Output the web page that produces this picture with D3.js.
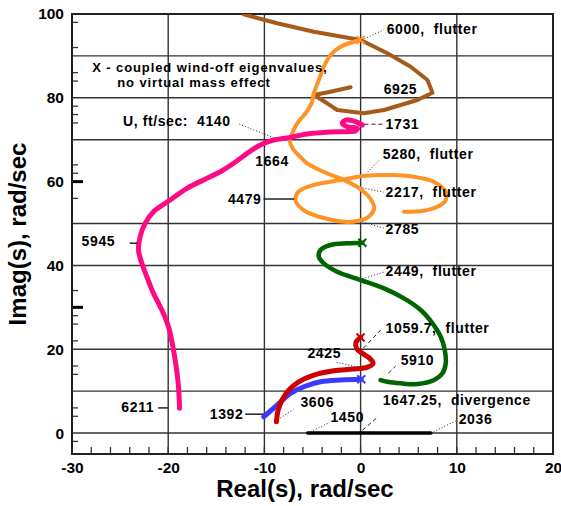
<!DOCTYPE html>
<html>
<head>
<meta charset="utf-8">
<script src="https://cdn.jsdelivr.net/npm/d3@7"></script>
<style>
  body { margin: 0; background: #fff; }
  text { font-family: "Liberation Sans", Arial, sans-serif; white-space: pre; }
</style>
</head>
<body>
<div class="chart"></div>
<script>
// root locus branches, [Real(s), Imag(s)] in rad/sec
const brownBranch = [[-12.16,99.93],[-8.68,97.78],[-4.86,95.78],[0,93.79],[2.78,90.62],[5.21,87.42],[6.95,84.25],[7.47,81.22],[5.91,79.47],[2.43,77.09],[0.34,76.3],[-2.43,77.09],[-3.47,78.69],[-4.86,80.67],[-3.13,81.46],[-1.04,82.51]];
const orangeBranch = [[0,93.79],[-2.08,92.2],[-3.13,90.21],[-3.82,87.42],[-4.34,84.25],[-4.86,81.07],[-5.1,78.69],[-5.73,76.3],[-6.59,73.91],[-7.11,71.53],[-7.36,69.76],[-6.95,67.54],[-6.25,65.87],[-5.55,64.37],[-3.82,62.29],[-1.74,60.38],[0,58.23],[1.04,55.85],[1.41,53.63],[0.83,51.62],[-0.31,50.6],[-1.77,50.43],[-3.85,51.31],[-5.94,53.22],[-6.77,55.61],[-6.46,57.59],[-4.9,59.19],[-2.08,60.38],[0.31,61.34],[3.13,61.58],[5.52,61.17],[7.6,59.98],[8.85,57.59],[8.85,55.61],[7.99,54.01],[6.56,53.06],[4.51,52.82]];
const pinkBranch = [[0.18,73.51],[-0.52,74.3],[-1.56,74.7],[-1.91,73.91],[-1.39,73.1],[-0.34,72.72],[-0.52,72.15],[-3.13,71.84],[-5.55,71.36],[-7.64,70.41],[-9.03,69.93],[-10.42,68.74],[-11.8,66.75],[-13.2,64.37],[-14.58,62.36],[-15.97,60.79],[-18.05,58.4],[-19.79,55.61],[-21.53,52.82],[-22.4,50.05],[-22.92,46.85],[-23.09,43.68],[-22.74,40.5],[-22.22,37.3],[-21.53,33.34],[-20.66,29.36],[-19.97,25.37],[-19.51,20.6],[-19.17,15.82],[-18.93,11.05],[-18.82,5.89]];
const greenBranch = [[0.18,45.42],[-1.39,45.27],[-3.13,44.87],[-4.17,43.68],[-4.34,42.08],[-3.82,40.5],[-2.43,38.5],[0,36.52],[2.43,34.53],[4.51,32.15],[6.25,29.36],[7.47,26.18],[8.33,22.98],[8.75,19.81],[8.85,16.63],[8.51,14.25],[7.64,12.65],[5.91,11.69],[4.17,11.86],[2.78,12.24],[2.08,12.65]];
const redBranch = [[0,22.79],[-0.47,21.72],[-0.42,20.21],[0.18,19.02],[0.94,17.83],[1.3,16.63],[0.73,15.75],[-0.83,15.27],[-2.78,14.87],[-4.86,13.84],[-6.43,12.24],[-7.47,10.26],[-8.16,7.88],[-8.57,5.49],[-8.75,2.7]];
const blueBranch = [[0.07,12.82],[-2.08,12.65],[-4.17,12.24],[-5.91,11.05],[-7.29,9.45],[-8.68,6.68],[-10.07,3.89]];
const blackBranch = [[-5.5,0],[7.3,0]];

// wind-off eigenvalues (X marks)
const windOff = [[0,93.8,'#ff9326'],[0.18,45.42,'#006400'],[0,22.8,'#cc0000'],[0.07,12.82,'#3a3aff']];

const xTicks = [-30, -20, -10, 0, 10, 20];
const yTicks = [0, 20, 40, 60, 80, 100];
const xGrid = [-20, -10, 0, 10];
const yGrid = [0, 10, 20, 40, 50, 70, 80, 90];
const yMinor = [98, 92, 86, 84, 78, 76, 74, 64, 62, 56, 34, 28, 26, 22, 16, 14, 6, 4, -2];
const yMajorMark = [60, 30];
const xMinor = d3.range(-28, 20, 2);

// speed labels: text, x, y, anchor, leader [x1,y1,x2,y2], leader style
const labels = [
  ['6000,  flutter', 2.71, 96.4, 'start', [0.1,93.8,2.4,96.2], 'dot'],
  ['6925', 2.4, 82.1, 'start', null, null],
  ['1731', 2.6, 73.7, 'start', [0.4,73.7,2.3,73.7], 'dash'],
  ['U, ft/sec:  4140', -24.7, 74.5, 'start', [-12.6,73.7,-9.06,70.5], 'dot'],
  ['1664', -10.94, 64.9, 'start', null, null],
  ['5280,  flutter', 2.29, 66.6, 'start', [0.73,62.3,1.98,65.2], 'dot'],
  ['2217,  flutter', 2.6, 57.5, 'start', [0.2,58.5,2.4,57.5], 'dot'],
  ['4479', -10.3, 55.85, 'end', [-10.1,55.85,-6.9,55.85], 'solid'],
  ['2785', 2.6, 48.7, 'start', [0.2,50.4,2.4,48.9], 'dot'],
  ['5945', -29.0, 45.8, 'start', [-24.0,45.3,-23.2,45.3], 'solid'],
  ['2449,  flutter', 2.6, 38.7, 'start', [0.2,36.8,2.4,38.4], 'dot'],
  ['1059.7,  flutter', 2.6, 25.1, 'start', [0.3,20.3,2.1,24.6], 'dash'],
  ['2425', -5.52, 19.1, 'start', [-2.5,16.9,-0.3,15.75], 'dot'],
  ['5910', 4.17, 17.4, 'start', [2.9,14.3,3.65,16.0], 'dash'],
  ['3606', -6.25, 7.4, 'start', [-8.33,3.6,-6.98,5.7], 'dot'],
  ['1392', -12.19, 4.5, 'end', [-12.0,4.5,-10.1,4.5], 'solid'],
  ['6211', -21.46, 6.2, 'end', [-21.04,6.0,-20.0,6.0], 'solid'],
  ['1450', -3.13, 3.8, 'start', [-5.5,0,-3.33,2.4], 'dot'],
  ['1647.25,  divergence', 2.29, 7.9, 'start', [0.2,0.7,1.77,3.8], 'dash'],
  ['2036', 10.2, 3.3, 'start', [7.3,0,9.9,2.9], 'dot']
];
const noteLines = [['X - coupled wind-off eigenvalues,', -27.9, 87.2], ['no virtual mass effect', -25.3, 83.7]];

const width = 561, height = 506;
const m = { left: 72, right: 8, top: 14, bottom: 52 };

const svg = d3.select('.chart')
  .append('svg')
  .attr('width', width)
  .attr('height', height);

const x = d3.scaleLinear().domain([-30, 20]).range([m.left, width - m.right]);
const y = d3.scaleLinear().domain([-5, 100]).range([height - m.bottom, m.top]);

svg.append('clipPath').attr('id', 'plot')
  .append('rect')
  .attr('x', x(-30)).attr('y', y(100))
  .attr('width', x(20) - x(-30)).attr('height', y(-5) - y(100));

// grid
svg.append('g').attr('class', 'grid')
  .selectAll('line.v').data(xGrid).enter().append('line')
  .attr('x1', d => x(d)).attr('x2', d => x(d))
  .attr('y1', y(-5)).attr('y2', y(100))
  .attr('stroke', '#333').attr('stroke-width', 1.4);
svg.select('.grid')
  .selectAll('line.h').data(yGrid).enter().append('line')
  .attr('x1', x(-30)).attr('x2', x(20))
  .attr('y1', d => y(d)).attr('y2', d => y(d))
  .attr('stroke', '#333').attr('stroke-width', 1.4);

// minor ticks
svg.append('g')
  .selectAll('line').data(yMinor).enter().append('line')
  .attr('x1', x(-30)).attr('x2', x(-30) + 6)
  .attr('y1', d => y(d)).attr('y2', d => y(d))
  .attr('stroke', '#333').attr('stroke-width', 1.3);
svg.append('g')
  .selectAll('line').data(yMajorMark).enter().append('line')
  .attr('x1', x(-30)).attr('x2', x(-30) + 11)
  .attr('y1', d => y(d)).attr('y2', d => y(d))
  .attr('stroke', '#000').attr('stroke-width', 3);
svg.append('g')
  .selectAll('line').data(xMinor).enter().append('line')
  .attr('x1', d => x(d)).attr('x2', d => x(d))
  .attr('y1', y(-5)).attr('y2', y(-5) - 7)
  .attr('stroke', '#333').attr('stroke-width', 1.3);

// frame
svg.append('rect')
  .attr('x', x(-30)).attr('y', y(100))
  .attr('width', x(20) - x(-30)).attr('height', y(-5) - y(100))
  .attr('fill', 'none').attr('stroke', '#222').attr('stroke-width', 2);

// tick labels (plain hyphen minus like the original)
const xAxis = d3.axisBottom(x).tickValues(xTicks).tickSize(0).tickPadding(8).tickFormat(d => String(d));
svg.append('g')
  .attr('transform', `translate(0,${y(-5)})`)
  .call(xAxis)
  .call(g => g.select('.domain').remove())
  .selectAll('text')
  .attr('font-size', 15.5).attr('font-weight', 'bold').attr('fill', '#000')
  .attr('font-family', 'Liberation Sans, Arial, sans-serif');

const yAxis = d3.axisLeft(y).tickValues(yTicks).tickSize(0).tickPadding(8).tickFormat(d => String(d));
svg.append('g')
  .attr('transform', `translate(${x(-30)},0)`)
  .call(yAxis)
  .call(g => g.select('.domain').remove())
  .selectAll('text')
  .attr('font-size', 15.5).attr('font-weight', 'bold').attr('fill', '#000')
  .attr('font-family', 'Liberation Sans, Arial, sans-serif');

// axis titles
svg.append('text')
  .attr('x', 305).attr('y', 497)
  .attr('text-anchor', 'middle')
  .attr('font-size', 24).attr('font-weight', 'bold')
  .text('Real(s), rad/sec');
svg.append('text')
  .attr('transform', `translate(26,${(y(-5) + y(100)) / 2}) rotate(-90)`)
  .attr('text-anchor', 'middle')
  .attr('font-size', 24).attr('font-weight', 'bold')
  .text('Imag(s), rad/sec');

// branches
const smooth = d3.line().x(d => x(d[0])).y(d => y(d[1])).curve(d3.curveCatmullRom.alpha(0.5));
const straight = d3.line().x(d => x(d[0])).y(d => y(d[1]));

const plot = svg.append('g').attr('clip-path', 'url(#plot)');
const branches = [
  [brownBranch, '#a65b1a', 4, straight],
  [orangeBranch, '#ff9326', 4, smooth],
  [pinkBranch, '#ff0a85', 5, smooth],
  [greenBranch, '#006400', 4.5, smooth],
  [blueBranch, '#3a3aff', 5, smooth],
  [redBranch, '#cc0000', 5, smooth],
  [blackBranch, '#000', 3.5, straight]
];
plot.selectAll('path.branch')
  .data(branches)
  .enter()
  .append('path')
  .attr('class', 'branch')
  .attr('d', d => d[3](d[0]))
  .attr('fill', 'none')
  .attr('stroke', d => d[1])
  .attr('stroke-width', d => d[2])
  .attr('stroke-linejoin', 'round')
  .attr('stroke-linecap', 'round');

// X marks
windOff.forEach(d => {
  const cx = x(d[0]), cy = y(d[1]);
  plot.append('path')
    .attr('d', `M${cx - 4},${cy - 4}L${cx + 4},${cy + 4}M${cx - 4},${cy + 4}L${cx + 4},${cy - 4}`)
    .attr('stroke', d[2]).attr('stroke-width', 2);
});

// leaders and labels
const dashes = { dot: '1,2', dash: '4,3', solid: null };
labels.forEach(d => {
  if (d[4]) {
    svg.append('line')
      .attr('x1', x(d[4][0])).attr('y1', y(d[4][1]))
      .attr('x2', x(d[4][2])).attr('y2', y(d[4][3]))
      .attr('stroke', '#222')
      .attr('stroke-width', d[5] === 'solid' ? 1.5 : 1)
      .attr('stroke-dasharray', dashes[d[5]]);
  }
  svg.append('text')
    .attr('x', x(d[1])).attr('y', y(d[2]))
    .attr('dy', '0.35em')
    .attr('text-anchor', d[3])
    .attr('font-size', 14).attr('font-weight', 'bold')
    .attr('letter-spacing', 0.6)
    .text(d[0]);
});

svg.selectAll('text.note')
  .data(noteLines)
  .enter()
  .append('text')
  .attr('class', 'note')
  .attr('x', d => x(d[1])).attr('y', d => y(d[2]))
  .attr('dy', '0.35em')
  .attr('font-size', 13).attr('font-weight', 'bold')
  .attr('letter-spacing', 0.9)
  .text(d => d[0]);
</script>
</body>
</html>
